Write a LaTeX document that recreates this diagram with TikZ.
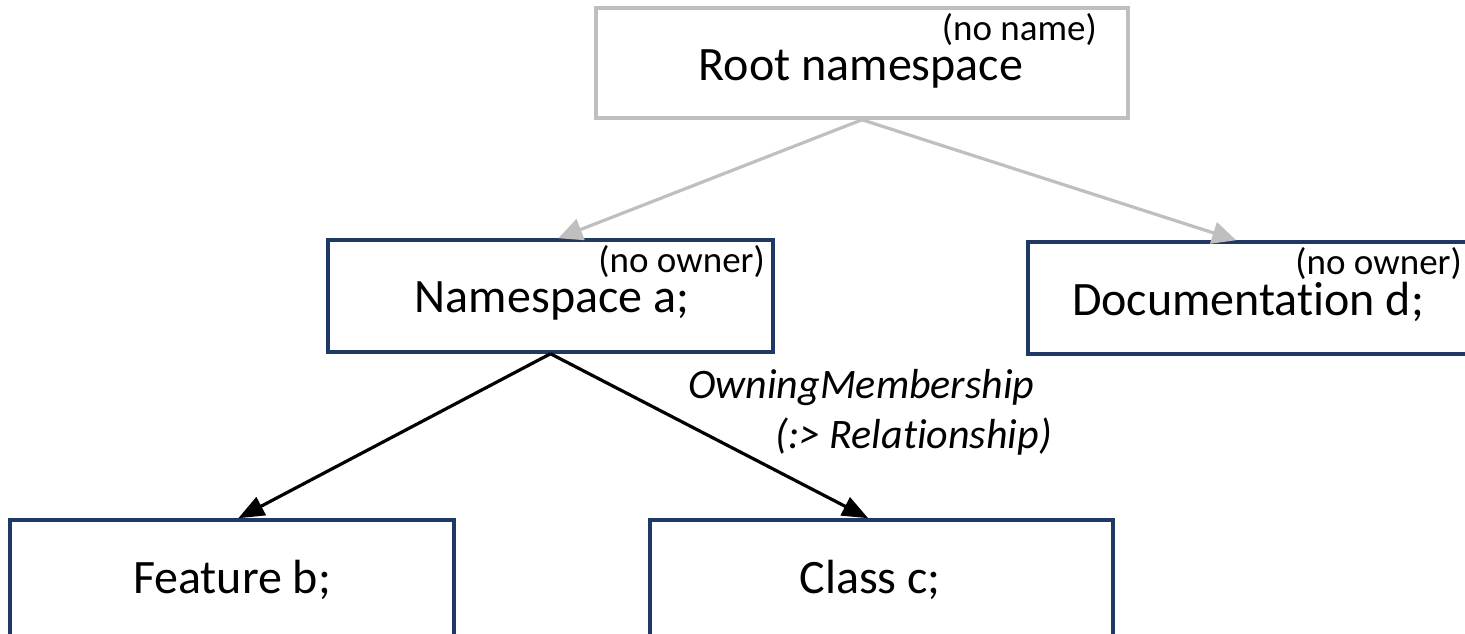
\documentclass[tikz,border=0pt]{standalone}
\usepackage{fontspec}
\setmainfont[Ligatures=NoCommon]{Carlito}
\usetikzlibrary{arrows.meta,calc}
\definecolor{boxnavy}{HTML}{1F3864}
\definecolor{rootgray}{HTML}{BFBFBF}
\tikzset{
  elem/.style={draw=boxnavy, line width=3.5pt, rectangle, inner sep=0pt, fill=white},
  rootbox/.style={draw=rootgray, line width=3.5pt, rectangle, inner sep=0pt, fill=white},
  bigtext/.style={font=\fontsize{48}{56}\selectfont, inner sep=0pt, anchor=base},
  tagtext/.style={font=\fontsize{37}{44}\selectfont, inner sep=0pt, anchor=base east},
  reltext/.style={font=\fontsize{42}{48}\selectfont\itshape, inner sep=0pt},
  ownerlink/.style={line width=3.2pt, rootgray, -{Triangle[length=24pt,width=22pt]}},
  memberlink/.style={line width=3.2pt, black, -{Triangle[length=26pt,width=20pt]}}
}
\begin{document}
\begin{tikzpicture}[x=1pt,y=-1pt]
\useasboundingbox (0,0) rectangle (1465,633);

% element boxes
\node[rootbox, minimum width=532pt, minimum height=110pt] (root) at (862,63) {};
\node[elem, minimum width=445pt, minimum height=112pt] (nsa) at (550.5,296) {};
\node[elem, minimum width=442pt, minimum height=112pt] (doc) at (1249,298) {};
\node[elem, minimum width=444pt, minimum height=120pt] (feat) at (232,580) {};
\node[elem, minimum width=463pt, minimum height=120pt] (cls) at (881.5,580) {};

% box texts
\node[bigtext] (roottxt) at (861,80) {Root namespace};
\node[tagtext] (roottag) at (1097,40) {(no name)};
\node[bigtext] (nsatxt) at (552,312) {Namespace a;};
\node[tagtext] (nsatag) at (765,272) {(no owner)};
\node[bigtext] (doctxt) at (1248,315) {Documentation d;};
\node[tagtext] (doctag) at (1462,274) {(no owner)};
\node[bigtext] (feattxt) at (232,593) {Feature b;};
\node[bigtext] (clstxt) at (870,593) {Class c;};

% connector end points on the target boxes
\coordinate (nsain) at ($(nsa.north west)+(232,0)$);
\coordinate (docin) at ($(doc.north west)+(210,0)$);
\coordinate (featin) at ($(feat.north west)+(230,0)$);
\coordinate (clsin) at ($(cls.north west)+(220,0)$);

% connectors
\draw[ownerlink] (root.south) -- (nsain);
\draw[ownerlink] (root.south) -- (docin);
\draw[memberlink] (nsa.south) -- (featin);
\draw[memberlink] (nsa.south) -- (clsin);

% relationship label
\node[reltext, anchor=base west] (rel1) at (688,398) {OwningMembership};
\node[reltext, anchor=base east] (rel2) at (1052,448) {(:> Relationship)};
\end{tikzpicture}
\end{document}
